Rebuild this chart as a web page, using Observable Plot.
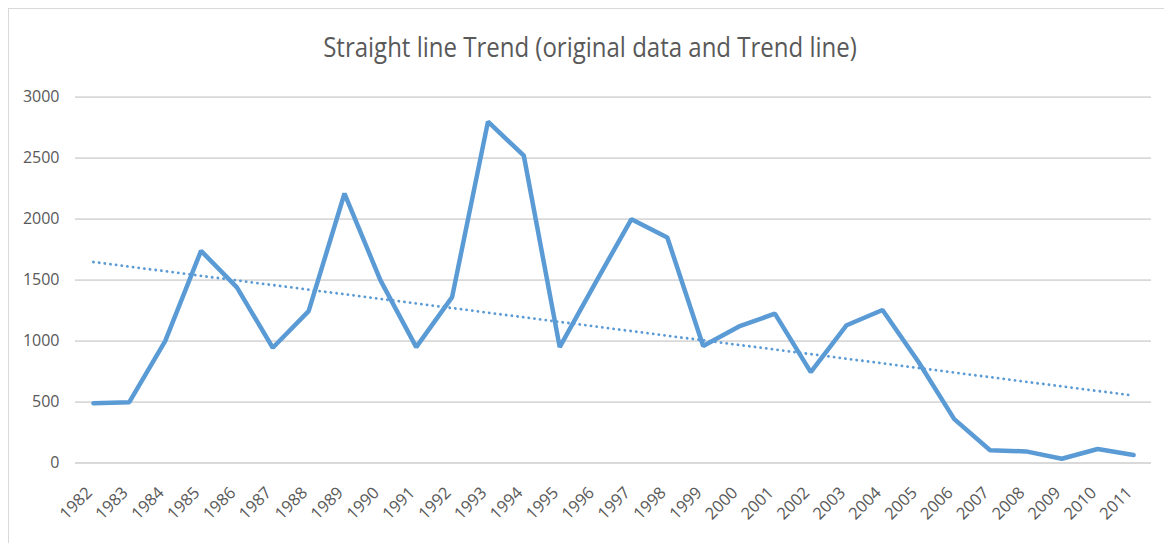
<!DOCTYPE html>
<html>
<head>
<meta charset="utf-8">
<script src="https://cdn.jsdelivr.net/npm/d3@7"></script>
<script src="https://cdn.jsdelivr.net/npm/@observablehq/plot@0.6"></script>
<style>
  html, body { margin: 0; padding: 0; background: #fff; }
  #wrap { position: relative; width: 1164px; height: 543px; overflow: hidden; font-family: "Open Sans", sans-serif; }
  #frame { position: absolute; left: 8px; top: 8px; width: 1200px; height: 600px; border-left: 1.5px solid #d9d9d9; border-top: 1.5px solid #d9d9d9; box-sizing: border-box; }
  #title { position: absolute; left: 8px; width: 1164px; top: 30px; text-align: center; font-size: 24px; color: #595959; font-family: "Open Sans", sans-serif; white-space: nowrap; transform: scaleY(1.15); transform-origin: 50% 50%; }
  #chart { position: absolute; left: 0; top: 0; }
</style>
</head>
<body>
<div id="wrap">
  <div id="frame"></div>
  <div id="title">Straight line Trend (original data and Trend line)</div>
  <div id="chart"></div>
</div>
<script>
const years = [1982,1983,1984,1985,1986,1987,1988,1989,1990,1991,1992,1993,1994,1995,1996,1997,1998,1999,2000,2001,2002,2003,2004,2005,2006,2007,2008,2009,2010,2011];
const values = [490,499,1000,1740,1440,945,1245,2210,1500,950,1360,2800,2520,950,1480,2000,1850,960,1120,1225,745,1130,1255,830,360,105,95,35,115,65];
const yTicks = [0,500,1000,1500,2000,2500,3000];

const data = years.map((yr, i) => ({year: yr, value: values[i]}));

const chart = Plot.plot({
  width: 1164,
  height: 543,
  marginLeft: 75,
  marginRight: 13,
  marginTop: 96.7,
  marginBottom: 80.5,
  style: {fontFamily: "Open Sans, sans-serif", background: "transparent", overflow: "visible"},
  x: {domain: [years[0] - 0.5, years[years.length - 1] + 0.5], label: null},
  y: {domain: [0, 3000], label: null},
  marks: [
    Plot.gridY(yTicks, {stroke: "#d9d9d9", strokeOpacity: 1, strokeWidth: 1.8}),
    Plot.axisY(yTicks, {tickSize: 0, tickPadding: 16, fontSize: 16, fill: "#595959", tickFormat: d => String(d), label: null}),
    Plot.axisX(years, {tickSize: 0, tickRotate: -45, tickPadding: 27, dx: -4, fontSize: 16.5, fill: "#595959", tickFormat: d => String(d), label: null}),
    Plot.linearRegressionY(data, {x: "year", y: "value", ci: 0, stroke: "#5b9bd5", strokeWidth: 2.8, strokeDasharray: "0.1,5.6", strokeLinecap: "round"}),
    Plot.line(data, {x: "year", y: "value", stroke: "#5b9bd5", strokeWidth: 4.5, strokeLinejoin: "miter", strokeLinecap: "round"})
  ]
});
document.getElementById("chart").appendChild(chart);
</script>
</body>
</html>
